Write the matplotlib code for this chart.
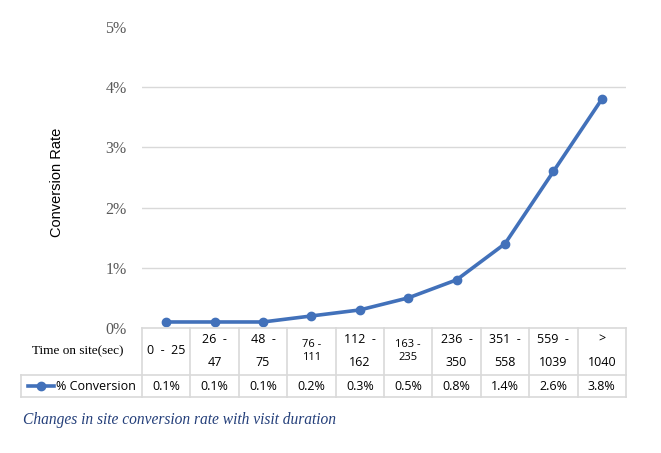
import matplotlib
matplotlib.use("Agg")
import matplotlib.pyplot as plt
from matplotlib.lines import Line2D
import matplotlib.transforms as mtransforms

categories = ["0  -  25", "26  -\n47", "48  -\n75", "76 -\n111", "112  -\n162",
              "163 -\n235", "236  -\n350", "351  -\n558", "559  -\n1039", ">\n1040"]
conversion = [0.1, 0.1, 0.1, 0.2, 0.3, 0.5, 0.8, 1.4, 2.6, 3.8]
value_labels = ["0.1%", "0.1%", "0.1%", "0.2%", "0.3%", "0.5%", "0.8%", "1.4%", "2.6%", "3.8%"]
yticks = [0, 1, 2, 3, 4, 5]
ytick_labels = ["0%", "1%", "2%", "3%", "4%", "5%"]
series_name = "% Conversion"
row_header = "Time on site(sec)"
ylabel = "Conversion Rate"
caption = "Changes in site conversion rate with visit duration"

W, H = 661, 453
fig = plt.figure(figsize=(W / 100, H / 100), dpi=100)
fig.patch.set_facecolor("white")

def fx(px):
    return px / W

def fy(py):
    return 1 - py / H

left, right, top, bottom = 142, 626, 27, 328
ax = fig.add_axes([fx(left), fy(bottom), fx(right - left), (bottom - top) / H])
line_color = "#4271BA"
grid_color = "#D9D9D9"

x = list(range(len(categories)))
ax.plot(x, conversion, color=line_color, lw=2.6, marker="o", ms=6, zorder=3,
        solid_capstyle="round")
ax.set_xlim(-0.5, len(categories) - 0.5)
ax.set_ylim(0, 5)
ax.set_yticks(yticks)
ax.set_yticklabels(ytick_labels, family="Liberation Serif", fontsize=11.5, color="#595959")
ax.tick_params(axis="y", length=0, pad=11)
ax.set_xticks([])
for s in ax.spines.values():
    s.set_visible(False)
for t in yticks[1:-1]:
    ax.axhline(t, color=grid_color, lw=1, zorder=1)

fig.text(fx(57), fy(182), ylabel, rotation=90, ha="center", va="center",
         fontsize=10.5, family="Liberation Sans", color="black")

# Table
tbl_top, tbl_mid, tbl_bot, tbl_left = 328, 375, 397, 21
lc = grid_color
def hline(y, x0, x1):
    fig.add_artist(Line2D([fx(x0), fx(x1)], [fy(y), fy(y)], color=lc, lw=1.2))
def vline(xp, y0, y1):
    fig.add_artist(Line2D([fx(xp), fx(xp)], [fy(y0), fy(y1)], color=lc, lw=1.2))

hline(tbl_top, left, right)
hline(tbl_mid, tbl_left, right)
hline(tbl_bot, tbl_left, right)
vline(tbl_left, tbl_mid, tbl_bot)
trans = mtransforms.blended_transform_factory(ax.transData, fig.transFigure)
for k in range(len(categories) + 1):
    xd = k - 0.5
    disp = ax.transData.transform((xd, 0))[0]
    xp = disp / fig.dpi * 100
    vline(xp, tbl_top, tbl_bot)

for i, (c, v) in enumerate(zip(categories, value_labels)):
    fs = 8 if c.startswith(("76", "163")) else 9
    ls = 2.0 if "\n" in c and not c.startswith(("76", "163")) else 1.3
    ax.text(i, fy(351), c, transform=trans, ha="center", va="center",
            fontsize=fs, family="Open Sans", linespacing=ls, color="black")
    ax.text(i, fy(386), v, transform=trans, ha="center", va="center",
            fontsize=9, family="Open Sans", color="black")

fig.text(fx(78), fy(351), row_header, ha="center", va="center", fontsize=9.5,
         family="Liberation Serif", color="black")
fig.add_artist(Line2D([fx(28), fx(54)], [fy(386), fy(386)], color=line_color, lw=2.6))
fig.add_artist(Line2D([fx(41)], [fy(386)], color=line_color, marker="o", ms=6, lw=0))
fig.text(fx(56), fy(386), series_name, ha="left", va="center", fontsize=9,
         family="Open Sans", color="black")

fig.text(fx(23), fy(420), caption, ha="left", va="center", fontsize=11.2,
         family="Liberation Serif", style="italic", color="#243F7A")

fig.savefig("out.png", dpi=100, facecolor="white")
